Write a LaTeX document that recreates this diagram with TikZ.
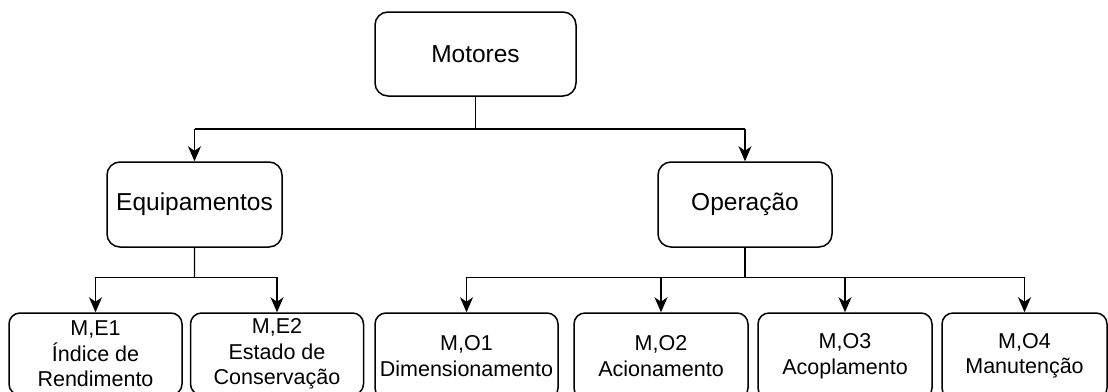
\documentclass[tikz,border=0pt]{standalone}
\usepackage{fontspec}
\setmainfont{Liberation Sans}
\usetikzlibrary{arrows.meta,calc}

\begin{document}
\begin{tikzpicture}[
  box/.style={draw, line width=1.5pt, rounded corners=13pt, inner sep=0pt,
    align=center, font=\fontsize{24.5}{29}\selectfont},
  leaf/.style={draw, line width=1.5pt, rounded corners=11pt, inner sep=0pt,
    align=center, font=\fontsize{21.5}{25.5}\selectfont},
  bar/.style={line width=1.4pt},
  conn/.style={line width=1.4pt, -{Stealth[length=15pt,width=13pt,inset=4.5pt]}}
]
% coordinates are given in pt, y measured downward from the top edge
\newcommand{\pp}[2]{({#1pt},{-#2pt})}
\useasboundingbox \pp{0}{0} rectangle \pp{1108}{391};

% top level
\node[box, minimum width=201pt, minimum height=84pt] (mot) at \pp{475.5}{54} {Motores};

% second level
\node[box, minimum width=175pt, minimum height=85pt] (equ) at \pp{194.5}{204.5} {Equipamentos};
\node[box, minimum width=174pt, minimum height=85pt] (ope) at \pp{745}{204.5} {Operação};

% leaves
\node[leaf, minimum width=173pt, minimum height=82pt] (e1) at \pp{95.5}{354} {M,E1\\Índice de\\Rendimento};
\node[leaf, minimum width=173pt, minimum height=82pt] (e2) at \pp{277}{354} {M,E2\\Estado de\\Conservação};
\node[leaf, minimum width=183pt, minimum height=86pt] (o1) at \pp{466.5}{356} {M,O1\\Dimensionamento};
\node[leaf, minimum width=174pt, minimum height=86pt] (o2) at \pp{661}{356} {M,O2\\Acionamento};
\node[leaf, minimum width=174pt, minimum height=86pt] (o3) at \pp{845}{356} {M,O3\\Acoplamento};
\node[leaf, minimum width=165pt, minimum height=86pt] (o4) at \pp{1024.5}{356} {M,O4\\Manutenção};

% bus levels
\coordinate (busA) at ($(mot.south)!0.5!(mot.south|-equ.north)$);
\coordinate (busE) at ($(equ.south)!0.46!(equ.south|-e1.north)$);
\coordinate (busO) at ($(ope.south)!0.46!(ope.south|-o1.north)$);

% connectors
\draw[bar] (mot.south) -- (busA);
\draw[bar] (busA -| equ.north) -- (busA -| ope.north);
\draw[conn] (busA -| equ.north) -- (equ.north);
\draw[conn] (busA -| ope.north) -- (ope.north);

\draw[bar] (equ.south) -- (busE);
\draw[bar] (busE -| e1.north) -- (busE -| e2.north);
\draw[conn] (busE -| e1.north) -- (e1.north);
\draw[conn] (busE -| e2.north) -- (e2.north);

\draw[bar] (ope.south) -- (busO);
\draw[bar] (busO -| o1.north) -- (busO -| o4.north);
\draw[conn] (busO -| o1.north) -- (o1.north);
\draw[conn] (busO -| o2.north) -- (o2.north);
\draw[conn] (busO -| o3.north) -- (o3.north);
\draw[conn] (busO -| o4.north) -- (o4.north);
\end{tikzpicture}
\end{document}
